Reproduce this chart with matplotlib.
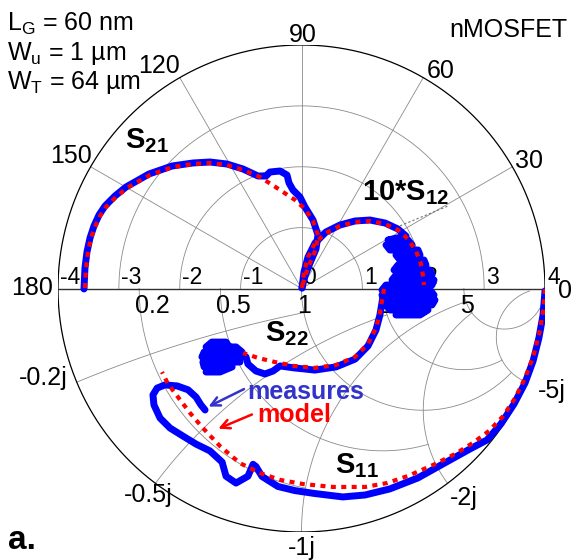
import numpy as np
import matplotlib.pyplot as plt
import matplotlib.transforms as mtransforms

plt.rcParams['font.family'] = ['Liberation Sans', 'DejaVu Sans']
plt.rcParams['mathtext.fontset'] = 'custom'
plt.rcParams['mathtext.rm'] = 'Liberation Sans'
plt.rcParams['mathtext.it'] = 'Liberation Sans:italic'
plt.rcParams['mathtext.bf'] = 'Liberation Sans:bold'

# ---- upper half : polar plot (real / imag), full scale 4 ----
R_MAX = 4
polar_ticks = [-4, -3, -2, -1, 0, 1, 2, 3, 4]
polar_angles = [0, 30, 60, 90, 120, 150, 180]

s21_model_re = [-3.557, -3.540, -3.507, -3.458, -3.392, -3.310, -3.211, -3.047, -2.867, -2.489,
                -2.111, -1.782, -1.503, -1.224, -0.961, -0.682, -0.353, -0.107, 0.057, 0.189,
                0.271, 0.238, 0.140, 0.057, 0.008]
s21_model_im = [0.008, 0.337, 0.600, 0.830, 1.010, 1.191, 1.339, 1.503, 1.651, 1.864,
                1.996, 2.045, 2.062, 2.029, 1.947, 1.832, 1.619, 1.454, 1.306, 1.109,
                0.879, 0.649, 0.419, 0.205, 0.008]
s21_meas_re = [-3.573, -3.557, -3.524, -3.474, -3.409, -3.326, -3.228, -3.064, -2.883, -2.505,
               -2.127, -1.782, -1.503, -1.224, -0.961, -0.714, -0.583, -0.517, -0.353, -0.238,
               -0.205, -0.140, -0.025, 0.057, 0.189, 0.271, 0.238, 0.140, 0.057, 0.008]
s21_meas_im = [-0.008, 0.337, 0.600, 0.830, 1.027, 1.208, 1.355, 1.520, 1.667, 1.881,
               2.012, 2.062, 2.078, 2.045, 1.963, 1.848, 1.848, 1.914, 1.930, 1.864,
               1.733, 1.618, 1.503, 1.339, 1.125, 0.879, 0.649, 0.419, 0.205, 0.008]

# 10*S12
s12_model_re = [0.008, 0.041, 0.107, 0.222, 0.402, 0.632, 0.879, 1.125, 1.372, 1.585,
                1.750, 1.881, 1.963, 1.996, 2.012]
s12_model_im = [0.008, 0.271, 0.517, 0.747, 0.912, 1.027, 1.092, 1.109, 1.060, 0.961,
                0.813, 0.616, 0.402, 0.205, 0.057]
s12_meas_re = [0.008, 0.041, 0.107, 0.222, 0.402, 0.632, 0.879, 1.125, 1.372, 1.585,
               1.717, 1.421, 1.750, 1.815, 1.388, 1.454, 1.914, 1.947, 1.552, 1.618,
               2.012, 2.045, 1.585, 1.520, 2.111, 2.144, 1.552, 1.487, 2.177, 2.144,
               1.388, 1.322, 2.111, 2.177, 1.322, 1.355, 2.193, 2.144, 1.388, 1.454,
               2.078, 1.947, 1.552]
s12_meas_im = [0.008, 0.271, 0.517, 0.747, 0.928, 1.043, 1.109, 1.125, 1.076, 0.977,
               0.862, 0.797, 0.797, 0.715, 0.715, 0.632, 0.632, 0.550, 0.550, 0.468,
               0.468, 0.386, 0.386, 0.304, 0.304, 0.222, 0.222, 0.140, 0.140, 0.057,
               0.057, -0.025, -0.025, -0.107, -0.107, -0.189, -0.189, -0.271, -0.271, -0.353,
               -0.353, -0.435, -0.435]

# ---- lower half : Smith chart (reflection coefficient) ----
smith_r = [0.2, 0.5, 1, 2, 5]
smith_x = [0.2, 0.5, 1, 2, 5]
smith_x_labels = ['-0.2j', '-0.5j', '-1j', '-2j', '-5j']

s11_model_re = [1.000, 0.992, 0.975, 0.951, 0.918, 0.877, 0.828, 0.770, 0.704, 0.630,
                0.540, 0.437, 0.351, 0.261, 0.129, 0.006, -0.088, -0.170, -0.253, -0.335,
                -0.405, -0.458, -0.511, -0.548, -0.573]
s11_model_im = [-0.002, -0.097, -0.191, -0.281, -0.368, -0.450, -0.524, -0.585, -0.634, -0.680,
                -0.725, -0.770, -0.799, -0.815, -0.815, -0.803, -0.786, -0.758, -0.717, -0.647,
                -0.573, -0.511, -0.441, -0.392, -0.343]
s11_meas_re = [1.000, 0.992, 0.975, 0.951, 0.918, 0.873, 0.819, 0.762, 0.692, 0.589,
               0.478, 0.363, 0.261, 0.170, 0.055, -0.027, -0.097, -0.162, -0.187, -0.199,
               -0.220, -0.269, -0.310, -0.326, -0.376, -0.433, -0.487, -0.540, -0.581, -0.606,
               -0.610, -0.593, -0.561, -0.511, -0.466, -0.433, -0.413, -0.396]
s11_meas_im = [-0.010, -0.109, -0.203, -0.298, -0.388, -0.474, -0.556, -0.622, -0.659, -0.716,
               -0.778, -0.823, -0.848, -0.856, -0.842, -0.830, -0.813, -0.772, -0.731, -0.722,
               -0.771, -0.799, -0.771, -0.713, -0.667, -0.639, -0.606, -0.573, -0.532, -0.478,
               -0.437, -0.409, -0.396, -0.400, -0.416, -0.446, -0.478, -0.499]

s22_model_re = [0.339, 0.331, 0.322, 0.306, 0.273, 0.220, 0.142, 0.055, -0.031, -0.109,
                -0.179, -0.240]
s22_model_im = [-0.002, -0.047, -0.101, -0.162, -0.228, -0.281, -0.314, -0.326, -0.318, -0.302,
                -0.285, -0.265]
s22_meas_re = [0.339, 0.331, 0.322, 0.306, 0.273, 0.220, 0.142, 0.055, -0.031, -0.088,
               -0.117, -0.150, -0.187, -0.220, -0.228, -0.409, -0.400, -0.244, -0.269, -0.392,
               -0.368, -0.310, -0.253, -0.405, -0.400, -0.285, -0.335, -0.392]
s22_meas_im = [-0.006, -0.055, -0.109, -0.170, -0.236, -0.290, -0.322, -0.335, -0.326, -0.318,
               -0.339, -0.351, -0.339, -0.310, -0.281, -0.281, -0.261, -0.261, -0.240, -0.240,
               -0.220, -0.220, -0.302, -0.302, -0.322, -0.322, -0.343, -0.343]

W, H = 571, 560
BLUE = '#0000ff'
RED = '#ff0000'
GRID = '#8a8a8a'
PX = 0.72  # points per pixel at 100 dpi

fig = plt.figure(figsize=(W / 100, H / 100), dpi=100)
ax = fig.add_axes([58 / W, 1 - 532 / H, 487 / W, 487 / H])
ax.set_xlim(-1, 1)
ax.set_ylim(-1, 1)
ax.axis('off')
polar = mtransforms.Affine2D().scale(1 / R_MAX) + ax.transData


def gamma(z):
    return (z - 1) / (z + 1)


grid_kw = dict(color=GRID, lw=0.6, zorder=1)
x_lim = [1, 2, 5, 5, 30]
for r, xm in zip(smith_r, x_lim):
    xs = np.r_[0, np.geomspace(1e-3, xm, 400)]
    g = gamma(r - 1j * xs)
    ax.plot(g.real, g.imag, **grid_kw)
for xv, rm in zip(smith_x, x_lim):
    rs = np.r_[0, np.geomspace(1e-3, rm, 400)]
    g = gamma(rs - 1j * xv)
    ax.plot(g.real, g.imag, **grid_kw)

th = np.linspace(0, np.pi, 200)
for rc in [1, 2, 3]:
    ax.plot(rc * np.cos(th), rc * np.sin(th), transform=polar, **grid_kw)
for a in polar_angles[1:-1]:
    t = np.radians(a)
    ax.plot([0, R_MAX * np.cos(t)], [0, R_MAX * np.sin(t)], transform=polar, **grid_kw)
# leader from the 10*S12 label
ax.plot([1.62, 2.42], [1.03, 1.36], transform=polar, color='#707070', lw=0.8,
        ls=(0, (2, 2)), zorder=1)

tt = np.linspace(0, 2 * np.pi, 400)
ax.plot(np.cos(tt), np.sin(tt), color='k', lw=0.9, zorder=2)
ax.plot([-1, 1], [0, 0], color='#303030', lw=1.0, zorder=2)

# curves
meas_kw = dict(color=BLUE, lw=5.0, solid_joinstyle='round', solid_capstyle='round', zorder=3)
model_kw = dict(color=RED, lw=3.0, ls=(0, (1.2, 1.3)), zorder=4)
ax.plot(s21_meas_re, s21_meas_im, transform=polar, **meas_kw)
ax.plot(s21_model_re, s21_model_im, transform=polar, **model_kw)
ax.plot(s12_meas_re, s12_meas_im, transform=polar, **meas_kw)
ax.plot(s12_model_re, s12_model_im, transform=polar, **model_kw)
ax.plot(s11_meas_re, s11_meas_im, **meas_kw)
ax.plot(s11_model_re, s11_model_im, **model_kw)
ax.plot(s22_meas_re, s22_meas_im, **meas_kw)
ax.plot(s22_model_re, s22_model_im, **model_kw)


def label(txt, xy, dx, dy, ha, va, size=18, coords='data', **kw):
    ax.annotate(txt, xy=xy, xycoords=coords, xytext=(dx * PX, dy * PX),
                textcoords='offset points', ha=ha, va=va, fontsize=size,
                annotation_clip=False, zorder=2, **kw)


# polar tick labels along the real axis
for v in polar_ticks:
    label(str(v), (v, 0), 2, 4, 'left', 'baseline', size=16.5, coords=polar)

# angle labels
ang_pos = {0: (13, -3, 'left', 'center'), 30: (3, -1, 'left', 'baseline'),
           60: (3, 0, 'left', 'baseline'), 90: (1, 3, 'center', 'baseline'),
           120: (0, 5, 'right', 'baseline'), 150: (1, 4, 'right', 'baseline'),
           180: (-5, 0, 'right', 'center')}
for a in polar_angles:
    t = np.radians(a)
    dx, dy, ha, va = ang_pos[a]
    label(str(a), (np.cos(t), np.sin(t)), dx, dy, ha, va)

# Smith resistance labels
for r in smith_r:
    label(f'{r:g}', ((r - 1) / (r + 1), 0), -4, -24.5, 'left', 'baseline')

# Smith reactance labels on the rim
x_off = [(-9, 4, 'right'), (-7, -12, 'center'), (0, -16, 'center'),
         (16, -15, 'center'), (26, -9, 'center')]
for xv, txt, (dx, dy, ha) in zip(smith_x, smith_x_labels, x_off):
    g = gamma(-1j * xv)
    label(txt, (g.real, g.imag), dx, dy, ha, 'center')

# curve names
ax.text(-0.725, 0.577, r'$\mathbf{S_{21}}$', fontsize=21, zorder=5)
ax.text(0.25, 0.3625, r'$\mathbf{10{*}S_{12}}$', fontsize=21, zorder=5)
ax.text(-0.15, -0.215, r'$\mathbf{S_{22}}$', fontsize=21, zorder=5)
ax.text(0.138, -0.758, r'$\mathbf{S_{11}}$', fontsize=21, zorder=5)

ax.text(-0.222, -0.455, 'measures', color='#3333cc', fontsize=18, fontweight='bold', zorder=5)
ax.text(-0.181, -0.549, 'model', color=RED, fontsize=18, fontweight='bold', zorder=5)
ax.annotate('', xy=(-0.392, -0.49), xytext=(-0.226, -0.408),
            arrowprops=dict(arrowstyle='->', color='#3333cc', lw=1.8, mutation_scale=16),
            zorder=5)
ax.annotate('', xy=(-0.352, -0.58), xytext=(-0.193, -0.513),
            arrowprops=dict(arrowstyle='->', color=RED, lw=1.8, mutation_scale=16),
            zorder=5)

# device annotations
fig.text(7 / W, 1 - 31 / H, r'L$_\mathregular{G}$ = 60 nm', fontsize=18, va='baseline')
fig.text(7 / W, 1 - 60 / H, r'W$_\mathregular{u}$ = 1 µm', fontsize=18, va='baseline')
fig.text(7 / W, 1 - 89 / H, r'W$_\mathregular{T}$ = 64 µm', fontsize=18, va='baseline')
fig.text(567 / W, 1 - 37 / H, 'nMOSFET', fontsize=18, ha='right', va='baseline')
fig.text(8 / W, 1 - 549 / H, 'a.', fontsize=24, fontweight='bold', va='baseline')

fig.savefig('out.png', dpi=100)
